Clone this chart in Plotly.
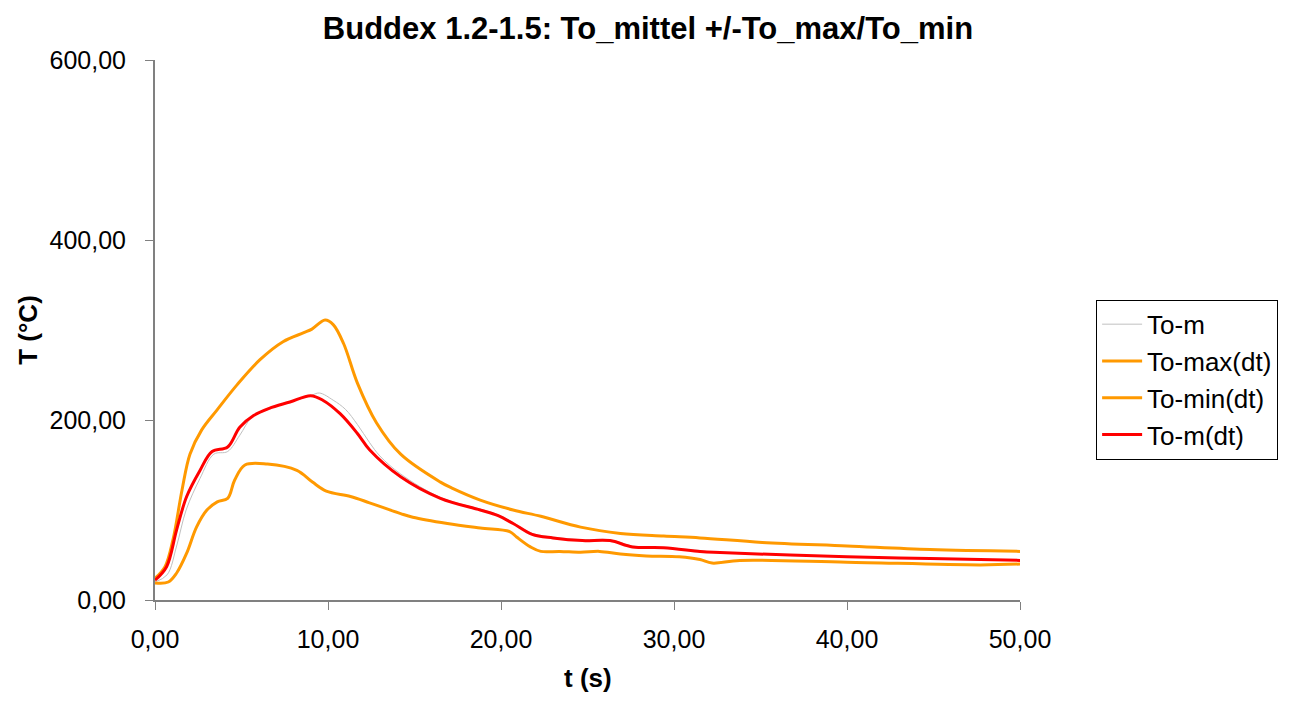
import plotly.graph_objects as go

# (t in s, T in degC)
t_max = [0, 0.58, 1.04, 1.56, 2.02, 2.7, 3.58, 4.74, 6.07, 7.4, 8.6, 9.07, 9.83, 10.3, 10.9, 11.7,
         12.8, 14.2, 16.5, 17.2, 18.8, 20.7, 22.3, 24.6, 26.9, 29.4, 31.5, 35.1, 40.0, 44.8, 50.0]
T_max = [24, 37, 67, 122, 162, 189, 211, 239, 267, 287, 297, 301, 311, 306, 285, 241,
         197, 162, 131, 124, 111, 100, 93, 81, 74, 71, 69, 64, 60, 56, 54]

t_min = [0, 0.77, 1.25, 1.83, 2.4, 3.0, 3.6, 4.2, 4.6, 5.2, 6.5, 8.2, 9.1, 9.9, 11.3, 12.4, 14.2,
         14.9, 16.9, 18.8, 20.5, 20.9, 21.7, 22.3, 23.4, 24.6, 25.7, 26.9, 28.4, 30.3, 31.5,
         32.2, 33.8, 40.0, 47.7, 50.0]
T_min = [19, 20, 30, 52, 81, 100, 109, 113, 133, 150, 151, 144, 131, 121, 115, 108, 96,
         92, 85, 80, 76, 70, 59, 54, 54, 53, 54, 51, 49, 48, 45,
         41, 44, 42, 39, 40]

t_mdt = [0, 0.67, 1.25, 1.83, 2.6, 3.3, 4.2, 4.9, 5.7, 6.6, 7.8, 9.0, 9.7, 10.7, 11.7, 12.4,
         14.2, 16.5, 18.8, 19.8, 20.7, 21.8, 23.0, 24.7, 26.3, 27.6, 29.4, 31.5, 32.3,
         40.0, 44.8, 50.0]
T_mdt = [22, 37, 78, 115, 144, 165, 170, 192, 205, 213, 220, 227, 222, 207, 185, 167,
         137, 113, 100, 94, 85, 73, 69, 66, 66, 59, 58, 54, 53,
         48, 46, 44]

t_m = [0, 0.7, 1.25, 1.8, 2.6, 3.4, 4.2, 4.9, 5.6, 6.6, 7.8, 9.0, 9.5, 10.3, 11.0, 11.7, 12.4,
       13.0, 14.2, 16.5, 18.8, 19.8, 20.7, 21.8, 23.0, 24.7, 26.3, 27.6, 29.4, 31.5, 32.3,
       40.0, 44.8, 50.0]
T_m = [20, 28, 60, 100, 135, 162, 165, 183, 203, 212, 220, 227, 230, 222, 212, 195, 175,
       160, 140, 114, 101, 95, 86, 74, 70, 67, 67, 60, 58, 55, 53,
       48, 46, 44]

ORANGE = "#FF9900"
RED = "#FF0000"
GRAY = "#C0C0C0"
AXIS = "#808080"

fig = go.Figure()

fig.add_trace(go.Scatter(x=t_m, y=T_m, mode="lines", name="To-m", legendgroup="a",
                         line=dict(color=GRAY, width=1, shape="spline")))
fig.add_trace(go.Scatter(x=t_max, y=T_max, mode="lines", name="To-max(dt)", legendgroup="b",
                         line=dict(color=ORANGE, width=3, shape="spline")))
fig.add_trace(go.Scatter(x=t_min, y=T_min, mode="lines", name="To-min(dt)", legendgroup="c",
                         line=dict(color=ORANGE, width=3, shape="spline")))
fig.add_trace(go.Scatter(x=t_mdt, y=T_mdt, mode="lines", name="To-m(dt)", legendgroup="d",
                         line=dict(color=RED, width=3, shape="spline")))

font = "Arial, Liberation Sans, sans-serif"

# x axis title as an annotation, kept just inside the bottom edge
fig.add_annotation(text="<b>t (s)</b>", xref="paper", yref="paper", x=0.5, y=-0.144,
                   xanchor="center", yanchor="middle", showarrow=False,
                   font=dict(size=26, family=font))

# the page body adds an 8px margin, so the figure is 16px smaller than the window
fig.update_layout(
    width=1280,
    height=686,
    paper_bgcolor="white",
    plot_bgcolor="white",
    separators=", ",
    margin=dict(l=147, r=268, t=52, b=94, autoexpand=False),
    font=dict(family=font, size=25, color="black"),
    title=dict(text="<b>Buddex 1.2-1.5: To_mittel +/-To_max/To_min</b>",
               x=0.5, xref="container", xanchor="center",
               y=0.971, yref="container", yanchor="middle",
               font=dict(size=31, family=font)),
    showlegend=True,
    legend=dict(x=1.088, xanchor="left", y=0.556, yanchor="top",
                bordercolor="black", borderwidth=1, bgcolor="white",
                font=dict(size=26, family=font), tracegroupgap=0,
                itemwidth=40, traceorder="grouped"),
    xaxis=dict(range=[0, 50], tick0=0, dtick=10, tickformat=".2f",
               showgrid=False, zeroline=False, showline=True, linecolor=AXIS,
               linewidth=2, ticks="outside", ticklen=8, tickcolor=AXIS,
               ticklabelstandoff=8, automargin=False),
    yaxis=dict(range=[0, 600], tick0=0, dtick=200, tickformat=".2f",
               showgrid=False, zeroline=False, showline=True, linecolor=AXIS,
               linewidth=2, ticks="outside", ticklen=8, tickcolor=AXIS,
               ticklabelstandoff=14, automargin=False,
               title=dict(text="<b>T (°C)</b>", font=dict(size=26), standoff=4)),
)

fig.write_html("out.html")
